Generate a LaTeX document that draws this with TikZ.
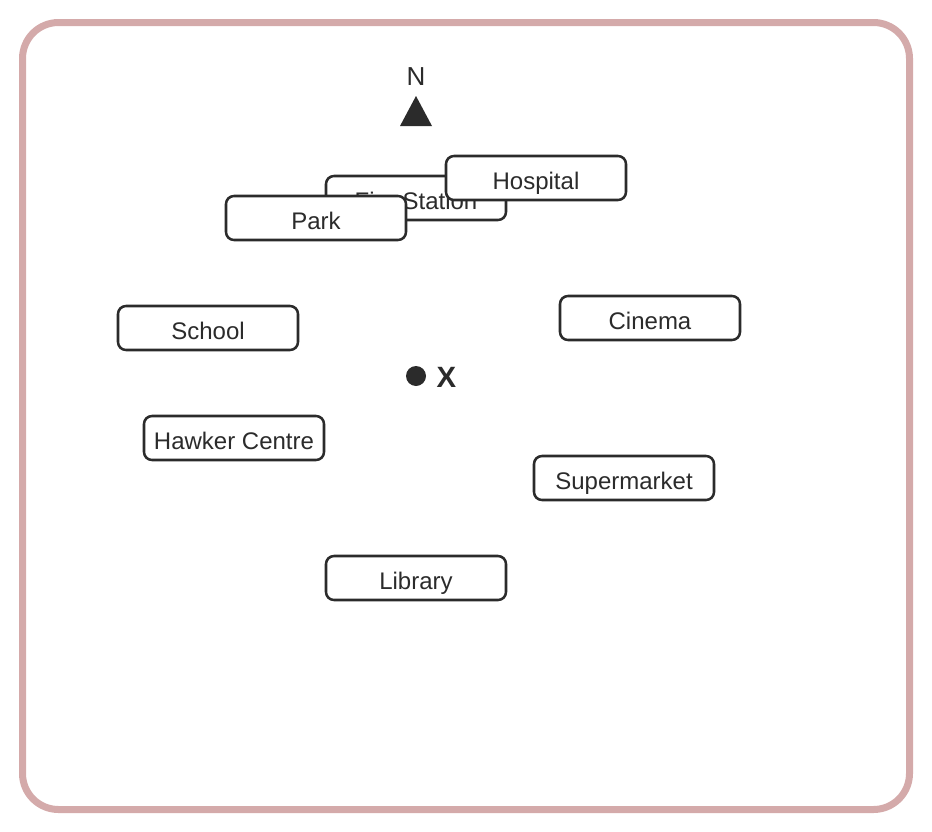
\documentclass[tikz,border=0pt]{standalone}
\usepackage{fontspec}
\setmainfont{Liberation Sans}
\usepackage{tikz}

\definecolor{inkgrey}{RGB}{43,43,43}
\definecolor{framepink}{RGB}{212,170,170}

\tikzset{
  place/.style={draw=inkgrey, fill=white, line width=1.9pt, rounded corners=6pt,
    minimum width=135pt, minimum height=33pt, inner sep=0pt, text=inkgrey,
    text height=16.5pt, text depth=0pt,
    font=\fontsize{18}{21}\selectfont},
}

\begin{document}
\begin{tikzpicture}[x=0.75pt,y=0.75pt,yscale=-1,xscale=1]
\useasboundingbox (0,0) rectangle (932,832);

%Shape: Rounded Rect [id:frame]
\draw [draw=framepink, line width=5.25pt, rounded corners=27pt] (22.5,22.5) rectangle (909.5,809.5);

%Shape: Triangle [id:north]
\fill [inkgrey] (416,96) -- (432,126) -- (400,126) -- cycle ;
% Text Node
\node (north) [text=inkgrey, font=\fontsize{19.5}{23}\selectfont] at (416,77) {N};

%Shape: Circle [id:spot]
\fill [inkgrey] (416,376) circle (10) ;
\coordinate (spot) at (416,376);
% Text Node
\node (xlabel) [text=inkgrey, font=\fontsize{22}{26}\selectfont\bfseries, anchor=west] at (432,377) {X};

% Text Node
\node (fire) [place] at (416,198) {Fire Station};
% Text Node
\node (hospital) [place] at (536,178) {Hospital};
% Text Node
\node (park) [place] at (316,218) {Park};
% Text Node
\node (school) [place] at (208,328) {School};
% Text Node
\node (cinema) [place] at (650,318) {Cinema};
% Text Node
\node (hawker) [place] at (234,438) {Hawker Centre};
% Text Node
\node (supermarket) [place] at (624,478) {Supermarket};
% Text Node
\node (library) [place] at (416,578) {Library};
\end{tikzpicture}
\end{document}
